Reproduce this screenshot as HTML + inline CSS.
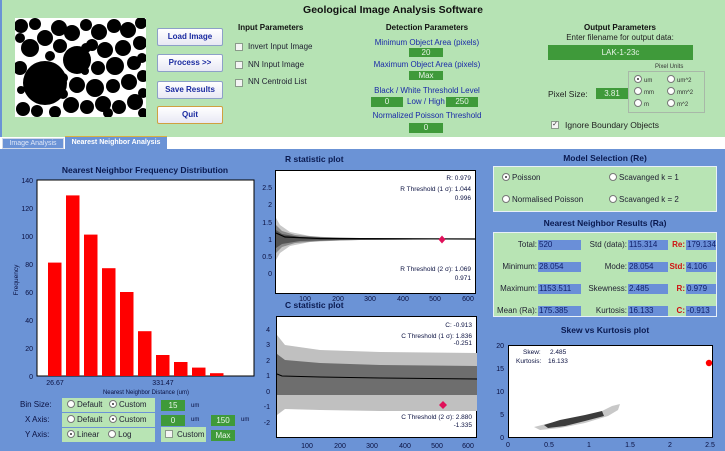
<!DOCTYPE html>
<html><head><meta charset="utf-8"><style>
*{margin:0;padding:0;box-sizing:border-box}
body{width:725px;height:451px;overflow:hidden;position:relative;background:#6b93d6;font-family:"Liberation Sans",sans-serif;font-size:8px;color:#000}
.a{position:absolute}
.g{background:#3f9a3a;color:#e8f5e8;text-align:center;font-size:8px;line-height:10px}
.b{background:#6a8fd8;color:#10206a;font-size:8px;line-height:10px;padding-left:1px;height:10px}
.btn{position:absolute;background:linear-gradient(#fff,#e8e8f4);border:1px solid #8da0c8;border-radius:2px;color:#1a2aa0;font-weight:bold;font-size:8px;text-align:center}
.cb{position:absolute;width:8px;height:8px;border:1px solid #8a9a8a;background:#f4f4f4}
.rd{display:inline-block;width:8px;height:8px;border:1px solid #777;border-radius:50%;background:#fff;vertical-align:-1px;margin-right:2px;position:relative}
.rd.on::after{content:"";position:absolute;left:2px;top:2px;width:2px;height:2px;background:#333;border-radius:50%}
.t{font-weight:bold;color:#111;font-size:8px}
.bl{color:#1a2aa8;font-size:8px}
.tit{font-weight:bold;color:#0a1a50;font-size:8.5px}
.pl{position:absolute;background:#b8e4b4}
.w{color:#0a1040;font-size:7px}
.lb{position:absolute;text-align:right;color:#223;font-size:8px;line-height:10px}
.lr{position:absolute;text-align:right;color:#d01010;font-weight:bold;font-size:8px;line-height:10px}
</style></head><body>
<div class="a" style="left:2px;top:0;width:723px;height:137px;background:#b6e3b4"></div>
<div class="a" style="left:0;top:137px;width:725px;height:12px;background:#fff"></div>
<div class="a" style="left:2px;top:138px;width:62px;height:11px;background:#6b93d6;border:1px solid #d0d8e8;color:#e0e8f8;font-size:7px;line-height:9px;text-align:center">Image Analysis</div>
<div class="a" style="left:65px;top:136px;width:102px;height:13px;background:#6b93d6;border-top:1px solid #d8b040;color:#fff;font-weight:bold;font-size:7px;line-height:12px;text-align:center">Nearest Neighbor Analysis</div>

<div class="a t" style="left:0;width:786px;top:4px;text-align:center;font-size:10.5px">Geological Image Analysis Software</div>

<svg class="a" style="left:15px;top:18px" width="131" height="99" viewBox="0 0 131 99">
<rect width="131" height="99" fill="#fff"/>
<g fill="#000">
<circle cx="30" cy="65" r="22"/><circle cx="62" cy="42" r="14"/><circle cx="15" cy="30" r="9"/><circle cx="30" cy="20" r="8"/>
<circle cx="44" cy="10" r="8"/><circle cx="6" cy="8" r="7"/><circle cx="20" cy="6" r="6"/><circle cx="57" cy="15" r="8"/><circle cx="71" cy="7" r="6"/>
<circle cx="84" cy="14" r="8"/><circle cx="99" cy="8" r="7"/><circle cx="113" cy="12" r="8"/><circle cx="126" cy="5" r="6"/>
<circle cx="90" cy="32" r="8"/><circle cx="108" cy="30" r="8"/><circle cx="125" cy="25" r="7"/><circle cx="77" cy="27" r="6"/>
<circle cx="100" cy="48" r="9"/><circle cx="119" cy="45" r="7"/><circle cx="83" cy="50" r="7"/><circle cx="45" cy="28" r="7"/>
<circle cx="62" cy="67" r="8"/><circle cx="80" cy="70" r="9"/><circle cx="98" cy="68" r="7"/><circle cx="114" cy="64" r="8"/><circle cx="128" cy="58" r="6"/>
<circle cx="56" cy="87" r="8"/><circle cx="72" cy="89" r="7"/><circle cx="88" cy="86" r="8"/><circle cx="104" cy="89" r="7"/><circle cx="120" cy="84" r="8"/>
<circle cx="8" cy="91" r="7"/><circle cx="22" cy="93" r="6"/><circle cx="40" cy="94" r="6"/><circle cx="5" cy="50" r="7"/><circle cx="48" cy="60" r="5"/>
<circle cx="71" cy="30" r="5"/><circle cx="127" cy="40" r="5"/><circle cx="5" cy="20" r="5"/><circle cx="35" cy="38" r="5"/><circle cx="93" cy="95" r="5"/>
<circle cx="128" cy="75" r="5"/><circle cx="128" cy="95" r="5"/><circle cx="48" cy="76" r="5"/><circle cx="6" cy="72" r="4"/><circle cx="70" cy="53" r="4"/>
</g></svg>

<div class="btn" style="left:157px;top:28px;width:66px;height:18px;line-height:16px">Load Image</div>
<div class="btn" style="left:157px;top:54px;width:66px;height:18px;line-height:16px">Process &gt;&gt;</div>
<div class="btn" style="left:157px;top:81px;width:66px;height:18px;line-height:16px">Save Results</div>
<div class="btn" style="left:157px;top:106px;width:66px;height:18px;line-height:16px;border-color:#d0a040">Quit</div>

<div class="a t" style="left:238px;top:23px">Input Parameters</div>
<div class="cb" style="left:235px;top:43px"></div><div class="a" style="left:248px;top:42px;color:#223">Invert Input Image</div>
<div class="cb" style="left:235px;top:61px"></div><div class="a" style="left:248px;top:60px;color:#223">NN Input Image</div>
<div class="cb" style="left:235px;top:79px"></div><div class="a" style="left:248px;top:77px;color:#223">NN Centroid List</div>

<div class="a t" style="left:367px;top:23px;width:120px;text-align:center">Detection Parameters</div>
<div class="a bl" style="left:362px;top:38px;width:130px;text-align:center">Minimum Object Area (pixels)</div>
<div class="a g" style="left:409px;top:48px;width:34px;height:9px;line-height:9px">20</div>
<div class="a bl" style="left:362px;top:60px;width:130px;text-align:center">Maximum Object Area (pixels)</div>
<div class="a g" style="left:409px;top:71px;width:34px;height:9px;line-height:9px">Max</div>
<div class="a bl" style="left:362px;top:86px;width:130px;text-align:center">Black / White Threshold Level</div>
<div class="a g" style="left:371px;top:97px;width:32px;height:10px">0</div>
<div class="a bl" style="left:407px;top:97px">Low / High</div>
<div class="a g" style="left:446px;top:97px;width:32px;height:10px">250</div>
<div class="a bl" style="left:362px;top:111px;width:130px;text-align:center">Normalized Poisson Threshold</div>
<div class="a g" style="left:409px;top:123px;width:34px;height:10px">0</div>

<div class="a t" style="left:560px;top:23px;width:120px;text-align:center">Output Parameters</div>
<div class="a" style="left:545px;top:33px;width:150px;text-align:center;color:#222">Enter filename for output data:</div>
<div class="a g" style="left:548px;top:45px;width:145px;height:15px;line-height:15px">LAK-1-23c</div>
<div class="a" style="left:655px;top:64px;font-size:6px;color:#333">Pixel Units</div>
<div class="a" style="left:628px;top:71px;width:77px;height:42px;border:1px solid #a8b8a8"></div>
<div class="a" style="left:634px;top:75px;font-size:6px;color:#333;line-height:12px"><span class="rd on"></span>um<br><span class="rd"></span>mm<br><span class="rd"></span>m</div>
<div class="a" style="left:667px;top:75px;font-size:6px;color:#333;line-height:12px"><span class="rd"></span>um^2<br><span class="rd"></span>mm^2<br><span class="rd"></span>m^2</div>
<div class="a" style="left:548px;top:89px;color:#222;font-size:8.5px">Pixel Size:</div>
<div class="a g" style="left:596px;top:88px;width:32px;height:11px;line-height:11px">3.81</div>
<div class="cb" style="left:551px;top:121px;font-size:7px;line-height:6px;text-align:center;color:#333">✓</div>
<div class="a" style="left:565px;top:120px;color:#222;font-size:8.5px">Ignore Boundary Objects</div>

<!-- histogram -->
<div class="a tit" style="left:30px;top:165px;width:230px;text-align:center">Nearest Neighbor Frequency Distribution</div>
<svg class="a" style="left:0;top:170px" width="260" height="230">
<rect x="37" y="10" width="217" height="196" fill="#fff" stroke="#000" stroke-width="1"/>
<g fill="#f00">
<rect x="48" y="92.6" width="13.5" height="113.4"/><rect x="66" y="25.4" width="13.5" height="180.6"/>
<rect x="84" y="64.6" width="13.5" height="141.4"/><rect x="102" y="98.2" width="13.5" height="107.8"/>
<rect x="120" y="122" width="13.5" height="84"/><rect x="138" y="161.2" width="13.5" height="44.8"/>
<rect x="156" y="185" width="13.5" height="21"/><rect x="174" y="192" width="13.5" height="14"/>
<rect x="192" y="197.6" width="13.5" height="8.4"/><rect x="210" y="203.2" width="13.5" height="2.8"/>
</g>
<g font-size="7" fill="#0a1040" text-anchor="end">
<text x="33" y="13">140</text><text x="33" y="41">120</text><text x="33" y="69">100</text><text x="33" y="97">80</text><text x="33" y="125">60</text><text x="33" y="153">40</text><text x="33" y="181">20</text><text x="33" y="209">0</text>
</g>
<text x="18" y="110" font-size="6.5" fill="#0a1040" transform="rotate(-90 18 110)" text-anchor="middle">Frequency</text>
<g font-size="7" fill="#0a1040" text-anchor="middle"><text x="55" y="215">26.67</text><text x="163" y="215">331.47</text><text x="146" y="224" font-size="6">Nearest Neighbor Distance (um)</text></g>
</svg>

<div class="a w" style="left:20px;top:400px;font-size:8px">Bin Size:</div>
<div class="a w" style="left:25px;top:415px;font-size:8px">X Axis:</div>
<div class="a w" style="left:25px;top:430px;font-size:8px">Y Axis:</div>
<div class="pl" style="left:62px;top:398px;width:93px;height:14px"></div>
<div class="pl" style="left:62px;top:413px;width:93px;height:14px"></div>
<div class="pl" style="left:62px;top:428px;width:93px;height:14px"></div>
<div class="a" style="left:67px;top:400px;color:#223"><span class="rd"></span>Default &nbsp; <span class="rd on"></span>Custom</div>
<div class="a" style="left:67px;top:415px;color:#223"><span class="rd"></span>Default &nbsp; <span class="rd on"></span>Custom</div>
<div class="a" style="left:67px;top:430px;color:#223"><span class="rd on"></span>Linear &nbsp;&nbsp; <span class="rd"></span>Log</div>
<div class="a g" style="left:161px;top:400px;width:24px;height:11px;line-height:11px">15</div>
<div class="a w" style="left:191px;top:403px;font-size:6px">um</div>
<div class="a g" style="left:161px;top:415px;width:24px;height:11px;line-height:11px">0</div>
<div class="a w" style="left:191px;top:417px;font-size:6px">um</div>
<div class="a g" style="left:211px;top:415px;width:24px;height:11px;line-height:11px">150</div>
<div class="a w" style="left:241px;top:417px;font-size:6px">um</div>
<div class="pl" style="left:161px;top:427px;width:45px;height:15px"></div>
<div class="cb" style="left:165px;top:430px"></div><div class="a" style="left:177px;top:430px;color:#223">Custom</div>
<div class="a g" style="left:211px;top:430px;width:24px;height:11px;line-height:11px">Max</div>

<!-- R plot -->
<div class="a tit" style="left:285px;top:154px">R statistic plot</div>
<svg class="a" style="left:260px;top:165px" width="230" height="140">
<rect x="15.5" y="5.5" width="200" height="123" fill="#fff" stroke="#000"/>
<path d="M16 53 L20 60 L30 67 L50 71 L80 73 L115 73.5 L216 73.5 L216 74.5 L115 74.5 L80 75.5 L50 77 L30 81 L20 88 L16 95 Z" fill="#c8c8c8"/>
<path d="M16 60 L22 66 L35 70 L60 72 L100 73 L170 73.5 L170 74.5 L100 75 L60 76 L35 78 L22 82 L16 88 Z" fill="#8a8a8a"/>
<path d="M16 65 L22 69 L40 72 L80 73 L170 73.6 L170 74.4 L80 75 L40 76 L22 79 L16 83 Z" fill="#555"/>
<path d="M16 68 L25 72 L60 73.5 L216 74" stroke="#000" stroke-width="1.2" fill="none"/>
<path d="M182 70.5 L185.5 74.5 L182 78.5 L178.5 74.5 Z" fill="#e0105a"/>
<g font-size="7" fill="#0a1040" text-anchor="end"><text x="12" y="25">2.5</text><text x="12" y="42">2</text><text x="12" y="60">1.5</text><text x="12" y="77">1</text><text x="12" y="94">0.5</text><text x="12" y="111">0</text></g>
<g font-size="7" fill="#0a1040" text-anchor="middle"><text x="45" y="136">100</text><text x="78" y="136">200</text><text x="110" y="136">300</text><text x="143" y="136">400</text><text x="175" y="136">500</text><text x="208" y="136">600</text></g>
<g font-size="6.5" fill="#0a1040" text-anchor="end"><text x="211" y="15">R: 0.979</text><text x="211" y="26">R Threshold (1 σ): 1.044</text><text x="211" y="35">0.996</text><text x="211" y="106">R Threshold (2 σ): 1.069</text><text x="211" y="115">0.971</text></g>
</svg>

<!-- C plot -->
<div class="a tit" style="left:285px;top:300px">C statistic plot</div>
<svg class="a" style="left:260px;top:310px" width="230" height="141">
<rect x="16.5" y="6.5" width="200" height="121" fill="#fff" stroke="#000"/>
<path d="M17 25 L25 35 L60 40 L120 42 L217 43 L217 101 L120 101 L60 100 L25 99 L17 105 Z" fill="#c0c0c0"/>
<path d="M17 44 L25 50 L60 53 L120 55 L217 56 L217 85 L17 85 Z" fill="#6e6e6e"/>
<path d="M17 64 L22 66 L60 67 L120 68 L217 69" stroke="#000" stroke-width="1" fill="none"/>
<path d="M183 91 L187 95 L183 99 L179 95 Z" fill="#e0105a"/>
<g font-size="7" fill="#0a1040" text-anchor="end"><text x="10" y="22">4</text><text x="10" y="37">3</text><text x="10" y="53">2</text><text x="10" y="68">1</text><text x="10" y="84">0</text><text x="10" y="99">-1</text><text x="10" y="115">-2</text></g>
<g font-size="7" fill="#0a1040" text-anchor="middle"><text x="47" y="138">100</text><text x="80" y="138">200</text><text x="112" y="138">300</text><text x="145" y="138">400</text><text x="177" y="138">500</text><text x="208" y="138">600</text></g>
<g font-size="6.5" fill="#0a1040" text-anchor="end"><text x="212" y="17">C: -0.913</text><text x="212" y="28">C Threshold (1 σ): 1.836</text><text x="212" y="35">-0.251</text><text x="212" y="109">C Threshold (2 σ): 2.880</text><text x="212" y="117">-1.335</text></g>
</svg>

<!-- Model selection -->
<div class="a tit" style="left:493px;top:153px;width:224px;text-align:center">Model Selection (Re)</div>
<div class="pl" style="left:493px;top:166px;width:224px;height:46px;border:1px solid #e8f0f8"></div>
<div class="a" style="left:502px;top:173px;color:#223;font-size:8px"><span class="rd on"></span>Poisson</div>
<div class="a" style="left:609px;top:173px;color:#223;font-size:8px"><span class="rd"></span>Scavanged k = 1</div>
<div class="a" style="left:502px;top:195px;color:#223;font-size:8px"><span class="rd"></span>Normalised Poisson</div>
<div class="a" style="left:609px;top:195px;color:#223;font-size:8px"><span class="rd"></span>Scavanged k = 2</div>

<div class="a tit" style="left:493px;top:218px;width:224px;text-align:center">Nearest Neighbor Results (Ra)</div>
<div class="pl" style="left:493px;top:232px;width:224px;height:85px;border:1px solid #e8f0f8"></div>
<div class="lb" style="left:487px;top:240px;width:50px">Total:</div>
<div class="lb" style="left:487px;top:262px;width:50px">Minimum:</div>
<div class="lb" style="left:487px;top:284px;width:50px">Maximum:</div>
<div class="lb" style="left:487px;top:306px;width:50px">Mean (Ra):</div>
<div class="a b" style="left:538px;top:240px;width:43px">520</div>
<div class="a b" style="left:538px;top:262px;width:43px">28.054</div>
<div class="a b" style="left:538px;top:284px;width:43px">1153.511</div>
<div class="a b" style="left:538px;top:306px;width:43px">175.385</div>
<div class="lb" style="left:572px;top:240px;width:55px">Std (data):</div>
<div class="lb" style="left:572px;top:262px;width:55px">Mode:</div>
<div class="lb" style="left:572px;top:284px;width:55px">Skewness:</div>
<div class="lb" style="left:572px;top:306px;width:55px">Kurtosis:</div>
<div class="a b" style="left:628px;top:240px;width:40px">115.314</div>
<div class="a b" style="left:628px;top:262px;width:40px">28.054</div>
<div class="a b" style="left:628px;top:284px;width:40px">2.485</div>
<div class="a b" style="left:628px;top:306px;width:40px">16.133</div>
<div class="lr" style="left:660px;top:240px;width:25px">Re:</div>
<div class="lr" style="left:660px;top:262px;width:25px">Std:</div>
<div class="lr" style="left:660px;top:284px;width:25px">R:</div>
<div class="lr" style="left:660px;top:306px;width:25px">C:</div>
<div class="a b" style="left:686px;top:240px;width:30px">179.134</div>
<div class="a b" style="left:686px;top:262px;width:30px">4.106</div>
<div class="a b" style="left:686px;top:284px;width:30px">0.979</div>
<div class="a b" style="left:686px;top:306px;width:30px">-0.913</div>

<!-- Skew vs Kurtosis -->
<div class="a tit" style="left:493px;top:325px;width:224px;text-align:center">Skew vs Kurtosis plot</div>
<svg class="a" style="left:490px;top:340px" width="235" height="111">
<rect x="18.5" y="5.5" width="204" height="92" fill="#fff" stroke="#000"/>
<path d="M44 87 L60 83 L90 78 L110 72 L122 66 L130 64 L128 70 L118 76 L95 83 L70 88 L50 90 Z" fill="#c8c8c8"/>
<path d="M54 85 L70 80 L95 75 L112 71 L114 76 L95 81 L75 86 L58 88 Z" fill="#3c3c3c"/>
<circle cx="219" cy="23" r="3.2" fill="#f00"/>
<g font-size="7" fill="#0a1040" text-anchor="end"><text x="14" y="8">20</text><text x="14" y="31">15</text><text x="14" y="54">10</text><text x="14" y="77">5</text><text x="14" y="100">0</text></g>
<g font-size="7" fill="#0a1040" text-anchor="middle"><text x="18" y="107">0</text><text x="59" y="107">0.5</text><text x="99" y="107">1</text><text x="140" y="107">1.5</text><text x="180" y="107">2</text><text x="220" y="107">2.5</text></g>
<g font-size="6.5" fill="#0a1040"><text x="33" y="14">Skew:</text><text x="60" y="14">2.485</text><text x="26" y="23">Kurtosis:</text><text x="58" y="23">16.133</text></g>
</svg>
</body></html>
